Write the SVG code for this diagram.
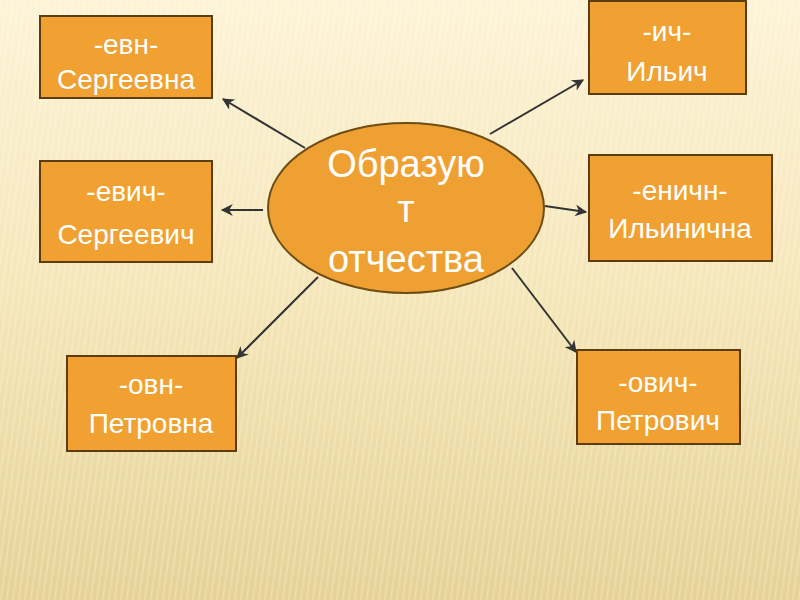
<svg xmlns="http://www.w3.org/2000/svg" width="800" height="600" viewBox="0 0 800 600">
<defs>
<linearGradient id="bg" x1="0" y1="0" x2="0" y2="1">
<stop offset="0" stop-color="#fdf3d6"/>
<stop offset="0.5" stop-color="#f5e6b8"/>
<stop offset="1" stop-color="#e6d297"/>
</linearGradient>
<pattern id="stripes" width="6" height="600" patternUnits="userSpaceOnUse" patternTransform="skewX(-8)">
<rect x="0" y="0" width="2" height="600" fill="#ffffff" opacity="0.2"/>
</pattern>
<marker id="ah" viewBox="0 0 10 10" refX="9" refY="5" markerWidth="13" markerHeight="12" orient="auto" markerUnits="userSpaceOnUse">
<path d="M0,0 L10,5 L0,10 L3,5 Z" fill="#333"/>
</marker>
<style>
.box{fill:#f0a131;stroke:#5c3d10;stroke-width:2}
.t{font-family:"Liberation Sans",Arial,sans-serif;font-size:28px;fill:#ffffff;text-anchor:middle}
.c{font-family:"Liberation Sans",Arial,sans-serif;font-size:38px;fill:#ffffff;text-anchor:middle}
.arr{stroke:#333;stroke-width:2;fill:none;marker-end:url(#ah)}
</style>
</defs>
<rect width="800" height="600" fill="url(#bg)"/>
<rect width="800" height="600" fill="url(#stripes)"/>
<g id="connectors">
<line class="arr" x1="305" y1="148" x2="223" y2="99"/>
<line class="arr" x1="263" y1="210" x2="222" y2="210"/>
<line class="arr" x1="318" y1="277" x2="237" y2="358"/>
<line class="arr" x1="490" y1="134" x2="583" y2="80"/>
<line class="arr" x1="545" y1="206" x2="586" y2="212"/>
<line class="arr" x1="512" y1="268" x2="576" y2="352"/>
</g>
<g id="center">
<ellipse cx="406" cy="208" rx="138" ry="85" fill="#efa033" stroke="#6e4c14" stroke-width="2"/>
<text class="c" x="406" y="177">Образую</text>
<text class="c" x="406" y="222">т</text>
<text class="c" x="406" y="272">отчества</text>
</g>
<g id="n-evn">
<rect class="box" x="40" y="16" width="172" height="82"/>
<text class="t" x="126" y="54">-евн-</text>
<text class="t" x="126" y="89">Сергеевна</text>
</g>
<g id="n-evich">
<rect class="box" x="40" y="161" width="172" height="101"/>
<text class="t" x="126" y="201">-евич-</text>
<text class="t" x="126" y="244">Сергеевич</text>
</g>
<g id="n-ovn">
<rect class="box" x="67" y="356" width="169" height="95"/>
<text class="t" x="151" y="394">-овн-</text>
<text class="t" x="151" y="433">Петровна</text>
</g>
<g id="n-ich">
<rect class="box" x="589" y="1" width="157" height="93"/>
<text class="t" x="667" y="41">-ич-</text>
<text class="t" x="667" y="81">Ильич</text>
</g>
<g id="n-enichn">
<rect class="box" x="589" y="155" width="183" height="106"/>
<text class="t" x="680" y="200">-еничн-</text>
<text class="t" x="680" y="238">Ильинична</text>
</g>
<g id="n-ovich">
<rect class="box" x="577" y="350" width="163" height="94"/>
<text class="t" x="658" y="392">-ович-</text>
<text class="t" x="658" y="430">Петрович</text>
</g>
</svg>
